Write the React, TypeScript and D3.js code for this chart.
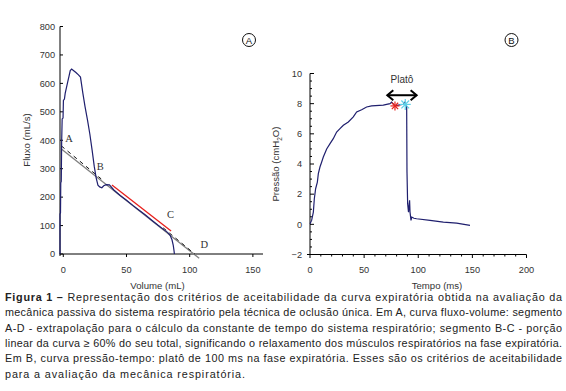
import React from 'react';
import * as d3 from 'd3';

// Painel A - curva fluxo-volume
const fvVolume = [-2.6, -2.6, -2.2, -2.0, -1.6, -1.3, -0.9, -0.2, 0.1, 0.9, 1.5, 2.5, 3.5, 4.5, 5.5, 6.6, 8, 10, 12, 13.6, 15.5, 17.2, 19.2, 21, 22.8, 24.5, 26, 27.4, 28.8, 30.5, 32, 34, 36.5, 40, 45, 50, 55, 60, 65, 70, 75, 80, 82.5, 84.5, 86, 87, 87.6, 87.9];
const fvFlow = [0, 140, 145, 250, 255, 390, 475, 478, 540, 545, 565, 585, 605, 625, 645, 650, 645, 638, 630, 622, 565, 518, 470, 422, 365, 308, 268, 242, 236, 233, 240, 244, 243, 225, 206, 189, 171, 154, 137, 119, 101, 84, 76, 66, 50, 30, 12, 0];

// segmento B-C (vermelho) e extrapolação A-D (cinza)
const bcVolume = [38.5, 85.3];
const bcFlow = [243, 81];
const adVolume = [-2.5, 107.5];
const adFlow = [372.6, -15];
const dashVolume = [[-1.5, 30], [79, 104]];
const dashFlow = [[380, 264], [92, 0]];

const pointLabels = ['A', 'B', 'C', 'D'];
const pointVolume = [1.5, 26.5, 82, 108.5];
const pointFlow = [395, 295, 125, 20];

// Painel B - curva pressão-tempo
const ptTime = [0, 1.5, 3.1, 4, 5.2, 6.8, 7.7, 9.2, 10.8, 12.3, 15.4, 18.5, 21.5, 24.6, 27.7, 30.8, 35.4, 40, 43.1, 47.7, 52.3, 56.9, 67.7, 73.9, 75.4, 78.5, 81.6, 86.2, 87.7, 89.3, 89.6, 90.2, 91, 92, 92.4, 93.3, 94, 96, 98.5, 110.9, 123.2, 135.5, 147.8];
const ptPressure = [0.04, 0.26, 0.81, 1.7, 2.36, 2.8, 3.36, 3.8, 4.13, 4.46, 5.0, 5.35, 5.68, 6.12, 6.35, 6.57, 6.79, 7.12, 7.45, 7.6, 7.78, 7.85, 7.9, 8.0, 8.1, 7.85, 7.9, 7.96, 8.1, 7.8, 3.47, 1.37, 0.81, 1.59, 0.81, 0.26, 0.48, 0.4, 0.37, 0.26, 0.15, 0.08, -0.07];

const plateauTime = [71.4, 98.5];
const plateauPressure = 8.56;
const starTime = [78.5, 88];
const starPressure = [7.85, 7.95];

const ticksVolume = [0, 50, 100, 150];
const ticksFlow = [0, 100, 200, 300, 400, 500, 600, 700, 800];
const ticksTime = [0, 50, 100, 150, 200];
const ticksPressure = [-2, 0, 2, 4, 6, 8, 10];

const captionLines = [
  'Representação dos critérios de aceitabilidade da curva expiratória obtida na avaliação da',
  'mecânica passiva do sistema respiratório pela técnica de oclusão única. Em A, curva fluxo-volume: segmento',
  'A-D - extrapolação para o cálculo da constante de tempo do sistema respiratório; segmento B-C - porção',
  'linear da curva ≥ 60% do seu total, significando o relaxamento dos músculos respiratórios na fase expiratória.',
  'Em B, curva pressão-tempo: platô de 100 ms na fase expiratória. Esses são os critérios de aceitabilidade',
  'para a avaliação da mecânica respiratória.',
];
const captionWidths = [557, 557, 557, 557, 557, 240];

const font = '"Liberation Sans", Arial, sans-serif';
const navy = '#1f1f6e';
const tickColor = '#333';

function Star(props: { x: number; y: number; r: number; color: string }) {
  const angles = d3.range(0, 180, 45);
  return (
    <g stroke={props.color} strokeWidth={1.2}>
      {angles.map((a) => {
        const rad = (a * Math.PI) / 180;
        const dx = Math.cos(rad) * props.r;
        const dy = Math.sin(rad) * props.r;
        return <line key={a} x1={props.x - dx} y1={props.y - dy} x2={props.x + dx} y2={props.y + dy} />;
      })}
    </g>
  );
}

function CircleLabel(props: { x: number; y: number; text: string }) {
  return (
    <g>
      <circle cx={props.x} cy={props.y} r={6.5} fill="none" stroke="#111" strokeWidth={1} />
      <text x={props.x} y={props.y + 3.5} textAnchor="middle" fontSize={9.5} fontFamily={font} fill="#111">{props.text}</text>
    </g>
  );
}

export default function App() {
  // scales
  const xA = d3.scaleLinear().domain([-3, 158]).range([59.5, 263]);
  const yA = d3.scaleLinear().domain([0, 800]).range([254, 26.5]);
  const xB = d3.scaleLinear().domain([0, 200]).range([310, 526.5]);
  const yB = d3.scaleLinear().domain([-2, 10]).range([254.5, 73.5]);

  const lineA = d3.line<number>().x((d) => xA(fvVolume[d])).y((d) => yA(fvFlow[d]));
  const lineB = d3.line<number>().x((d) => xB(ptTime[d])).y((d) => yB(ptPressure[d]));
  const seg = (vs: number[], fs: number[]) =>
    d3.line<number>().x((d) => xA(vs[d])).y((d) => yA(fs[d]))(d3.range(vs.length)) || '';

  const minorTime = d3.range(0, 201, 10);
  const minorPressure = d3.range(-2, 10.01, 0.5);

  // arrow of the plateau
  const ax0 = xB(plateauTime[0]);
  const ax1 = xB(plateauTime[1]);
  const ay = yB(plateauPressure);
  const h = 5;

  return (
    <svg width={566} height={391} style={{ position: 'absolute', left: 0, top: 0, background: '#fff' }}>
      {/* ---------- Painel A ---------- */}
      <g fontFamily={font} fontSize={9.2} fill={tickColor}>
        <line x1={60} y1={26.5} x2={60} y2={256} stroke="#000" />
        <line x1={59.5} y1={254} x2={263} y2={254} stroke="#000" />
        {ticksFlow.map((t) => (
          <g key={'fa' + t}>
            <line x1={60} x2={63} y1={yA(t)} y2={yA(t)} stroke="#000" />
            <text x={55} y={yA(t) + 3.3} textAnchor="end">{t}</text>
          </g>
        ))}
        {ticksVolume.map((t) => (
          <g key={'va' + t}>
            <line x1={xA(t)} x2={xA(t)} y1={254} y2={257} stroke="#000" />
            <text x={xA(t)} y={272.5} textAnchor="middle">{t}</text>
          </g>
        ))}
        <text x={157.5} y={288.5} textAnchor="middle" fontSize={9.6}>Volume (mL)</text>
        <text transform="translate(30,140) rotate(-90)" textAnchor="middle" fontSize={9.6}>Fluxo (mL/s)</text>
      </g>
      <path d={seg(adVolume, adFlow)} fill="none" stroke="#808080" strokeWidth={1.3} />
      {dashVolume.map((vs, i) => (
        <path key={'d' + i} d={seg(vs, dashFlow[i])} fill="none" stroke="#111" strokeWidth={1} strokeDasharray="4 4" />
      ))}
      <path d={lineA(d3.range(fvVolume.length)) || ''} fill="none" stroke={navy} strokeWidth={1.2} />
      <path d={seg(bcVolume, bcFlow)} fill="none" stroke="#e8201c" strokeWidth={1.3} />
      {pointLabels.map((l, i) => (
        <text key={l} x={xA(pointVolume[i])} y={yA(pointFlow[i])} fontFamily='"Liberation Serif", serif' fontSize={10.5} fill="#333">{l}</text>
      ))}
      <CircleLabel x={249} y={40} text="A" />

      {/* ---------- Painel B ---------- */}
      <g fontFamily={font} fontSize={9.2} fill={tickColor}>
        <line x1={310} y1={73.5} x2={310} y2={254.5} stroke="#000" />
        <line x1={307} y1={254.5} x2={526.5} y2={254.5} stroke="#000" />
        {minorPressure.map((t) => (
          <line key={'mp' + t} x1={310} x2={ticksPressure.includes(t) ? 314 : 312} y1={yB(t)} y2={yB(t)} stroke="#000" />
        ))}
        {minorTime.map((t) => (
          <line key={'mt' + t} x1={xB(t)} x2={xB(t)} y1={254.5} y2={ticksTime.includes(t) ? 258 : 256.5} stroke="#000" />
        ))}
        {ticksPressure.map((t) => (
          <text key={'tp' + t} x={302} y={yB(t) + 3.3} textAnchor="end">{t < 0 ? '\u2212' + Math.abs(t) : t}</text>
        ))}
        {ticksTime.map((t) => (
          <text key={'tt' + t} x={xB(t)} y={272.5} textAnchor="middle">{t}</text>
        ))}
        <text x={437} y={288.5} textAnchor="middle" fontSize={9.6}>Tempo (ms)</text>
        <text transform="translate(279,164) rotate(-90)" textAnchor="middle" fontSize={9.6}>
          Pressão (cmH<tspan fontSize={6.5} dy={2.5}>2</tspan><tspan dy={-2.5}>O)</tspan>
        </text>
        <text x={(ax0 + ax1) / 2} y={83} textAnchor="middle" fontSize={10}>Platô</text>
      </g>
      <path d={lineB(d3.range(ptTime.length)) || ''} fill="none" stroke={navy} strokeWidth={1.2} />
      <g stroke="#000" strokeWidth={2} fill="none">
        <line x1={ax0} x2={ax1} y1={ay} y2={ay} />
        <path d={`M${ax0 + h + 1},${ay - h} L${ax0},${ay} L${ax0 + h + 1},${ay + h}`} />
        <path d={`M${ax1 - h - 1},${ay - h} L${ax1},${ay} L${ax1 - h - 1},${ay + h}`} />
      </g>
      <Star x={xB(starTime[0])} y={yB(starPressure[0])} r={4.5} color="#e8201c" />
      <Star x={xB(starTime[1])} y={yB(starPressure[1])} r={5.5} color="#5fd0e8" />
      <CircleLabel x={511.5} y={40} text="B" />

      {/* ---------- Legenda ---------- */}
      <g fontFamily={font} fontSize={10.8} fill="#222">
        {captionLines.map((line, i) => (
          <text key={i} x={5} y={301 + i * 15.3} textLength={captionWidths[i]} lengthAdjust="spacing">
            {i === 0 ? <tspan fontWeight="bold">Figura 1 – </tspan> : null}
            {line}
          </text>
        ))}
      </g>
    </svg>
  );
}
